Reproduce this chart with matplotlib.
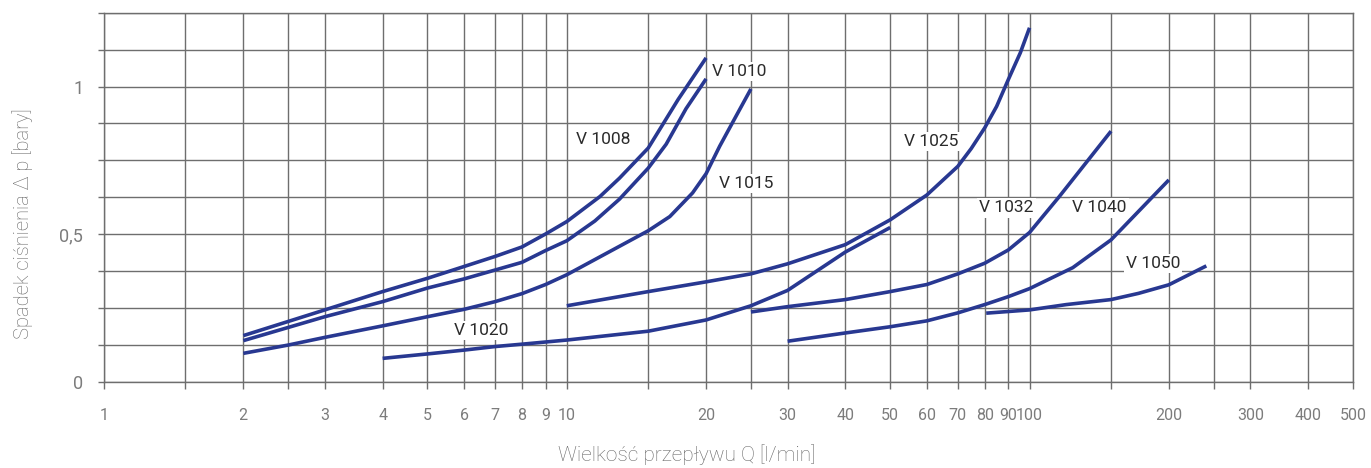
import matplotlib
matplotlib.use('Agg')
import matplotlib.pyplot as plt

plt.rcParams['font.family'] = ['Roboto', 'DejaVu Sans']

# Przepływ Q [l/min] i spadek ciśnienia [bar] dla każdego zaworu
q_1008 = [2, 3, 4, 5, 6, 7, 8, 9, 10, 11.8, 13, 15, 16.2, 17.4, 18.7, 20]
dp_1008 = [0.157, 0.244, 0.306, 0.351, 0.391, 0.425, 0.457, 0.501, 0.543, 0.628, 0.69, 0.792,
           0.877, 0.956, 1.029, 1.097]

q_1010 = [2, 3, 4, 5, 6, 7, 8, 9, 10, 11.5, 13, 15, 16.4, 18.1, 20]
dp_1010 = [0.14, 0.221, 0.272, 0.318, 0.349, 0.379, 0.405, 0.445, 0.478, 0.545, 0.619, 0.724,
           0.805, 0.925, 1.026]

q_1015 = [2, 2.5, 3, 4, 5, 6, 7, 8, 9, 10, 13.9, 15, 16.7, 18.7, 20, 21.4, 23.2, 25]
dp_1015 = [0.097, 0.125, 0.151, 0.19, 0.221, 0.246, 0.272, 0.299, 0.33, 0.363, 0.484, 0.512,
           0.56, 0.64, 0.705, 0.798, 0.899, 0.992]

q_1020 = [4, 5, 6, 7, 8, 10, 15, 20, 25, 30, 40, 50]
dp_1020 = [0.08, 0.095, 0.108, 0.12, 0.128, 0.142, 0.172, 0.21, 0.258, 0.31, 0.44, 0.523]

q_1025 = [10, 15, 20, 25, 30, 40, 50, 60, 70, 74.8, 80, 84.9, 90, 95.5, 100]
dp_1025 = [0.258, 0.306, 0.339, 0.366, 0.4, 0.465, 0.549, 0.633, 0.73, 0.79, 0.86, 0.933,
           1.024, 1.114, 1.199]

q_1032 = [25, 30, 40, 50, 60, 70, 80, 90, 100, 116, 150]
dp_1032 = [0.237, 0.255, 0.279, 0.306, 0.33, 0.366, 0.402, 0.447, 0.506, 0.628, 0.849]

q_1040 = [30, 40, 50, 60, 70, 80, 90, 100, 124, 150, 200]
dp_1040 = [0.138, 0.166, 0.187, 0.207, 0.234, 0.262, 0.289, 0.316, 0.387, 0.481, 0.684]

q_1050 = [80.6, 100, 120, 150, 172, 200, 241]
dp_1050 = [0.233, 0.244, 0.262, 0.279, 0.3, 0.329, 0.393]

curves = [(q_1008, dp_1008), (q_1010, dp_1010), (q_1015, dp_1015), (q_1020, dp_1020),
          (q_1025, dp_1025), (q_1032, dp_1032), (q_1040, dp_1040), (q_1050, dp_1050)]

# Etykiety zaworów
names = ['V 1008', 'V 1010', 'V 1015', 'V 1020', 'V 1025', 'V 1032', 'V 1040', 'V 1050']
label_q = [10.46, 20.6, 21.3, 5.7, 53.5, 77.8, 123.7, 161.5]
label_dp = [0.82, 1.052, 0.671, 0.174, 0.815, 0.589, 0.589, 0.4]

# Siatka i opisy osi
x_grid = [1, 1.5, 2, 2.5, 3, 4, 5, 6, 7, 8, 9, 10, 15, 20, 25, 30, 40, 50, 60, 70, 80, 90,
          100, 150, 200, 250, 300, 400, 500]
x_labeled = [1, 2, 3, 4, 5, 6, 7, 8, 9, 10, 20, 30, 40, 50, 60, 70, 80, 90, 100, 200, 300, 400, 500]
y_grid = [0, 0.125, 0.25, 0.375, 0.5, 0.625, 0.75, 0.875, 1.0, 1.125, 1.25]
y_labels = {0: '0', 0.5: '0,5', 1.0: '1'}

line_color = '#283891'
grid_color = '#6e6e6e'
tick_color = '#7c7c7c'

fig = plt.figure(figsize=(13.71, 4.68), dpi=100)
ax = fig.add_axes([104 / 1371, 1 - 382 / 468, 1249 / 1371, 369.3 / 468])

for q, dp in curves:
    ax.plot(q, dp, color=line_color, linewidth=2.6, solid_capstyle='butt', zorder=3)

for name, q, dp in zip(names, label_q, label_dp):
    ax.text(q, dp, name, fontsize=12.5, color='#2b2b2b', ha='left', va='center', zorder=4,
            bbox=dict(facecolor='white', edgecolor='none', pad=1.5))

ax.set_xscale('log')
ax.set_xlim(1, 500)
ax.set_ylim(0, 1.25)

ax.set_xticks(x_grid)
ax.set_xticklabels([str(v) if v in x_labeled else '' for v in x_grid])
ax.xaxis.set_minor_locator(matplotlib.ticker.NullLocator())
ax.set_yticks(y_grid)
ax.set_yticklabels([y_labels.get(v, '') for v in y_grid])

ax.grid(True, color=grid_color, linewidth=1.0, zorder=1)
ax.set_axisbelow(True)
for side in ax.spines:
    ax.spines[side].set_color(grid_color)
    ax.spines[side].set_linewidth(1.0)

ax.tick_params(axis='x', direction='out', length=5, width=1, color=grid_color,
               labelsize=11.5, labelcolor=tick_color, pad=14)
ax.tick_params(axis='y', direction='out', length=4, width=1, color=grid_color,
               labelsize=13, labelcolor=tick_color, pad=11)

ax.set_xlabel('Wielkość przepływu Q [l/min]', fontsize=15, color='#666666', fontweight='light')
ax.set_ylabel('Spadek ciśnienia Δ p [bary]', fontsize=14.5, color='#666666', fontweight='light')
ax.xaxis.set_label_coords((687 - 104) / 1249, -0.168)
ax.yaxis.set_label_coords(-0.057, 0.43)

fig.savefig('out.png', dpi=100)
